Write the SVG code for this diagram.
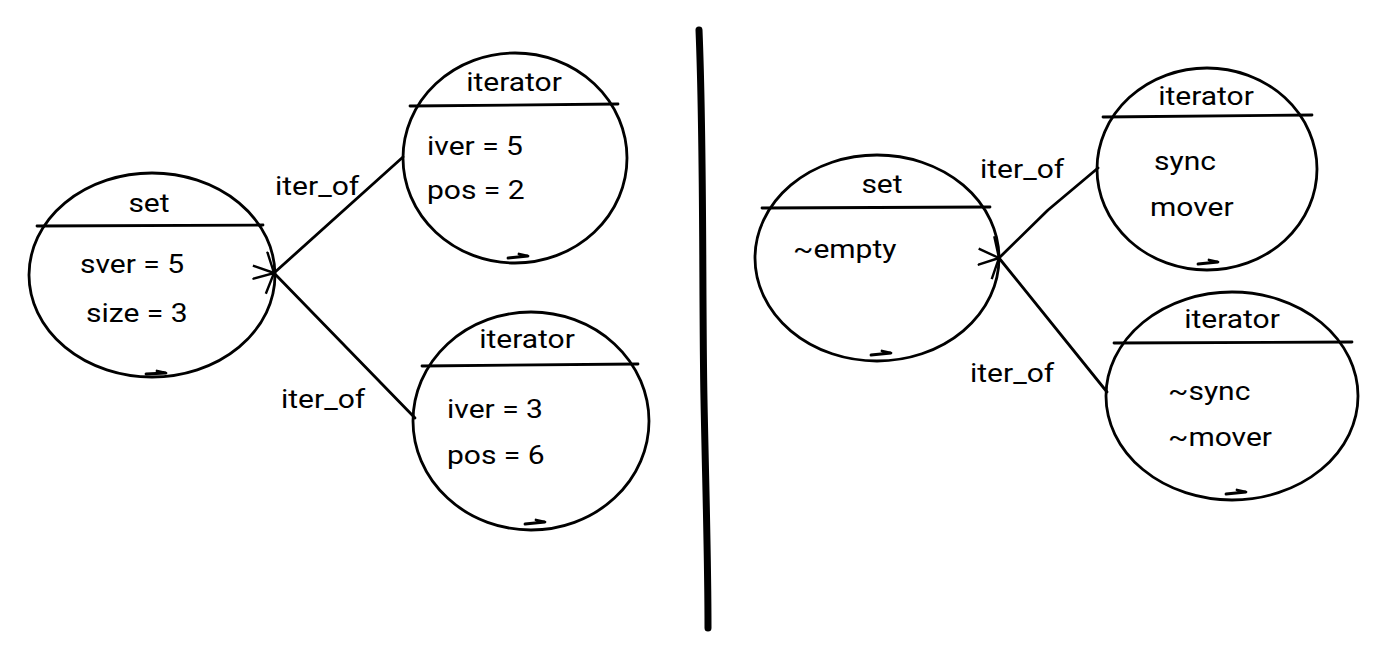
<svg xmlns="http://www.w3.org/2000/svg" width="1388" height="656" viewBox="0 0 1388 656">
<defs>
<marker id="arr" viewBox="0 0 22 22" refX="1" refY="11" markerWidth="22" markerHeight="22" markerUnits="userSpaceOnUse" orient="auto">
<path d="M21,1 L1,11 L21,21" fill="none" stroke="#000" stroke-width="2.4"/>
</marker>
<style>
.sh{fill:none;stroke:#000;stroke-width:2.8;stroke-linecap:round;stroke-linejoin:round}
.t{font-family:Roboto,"Noto Sans",sans-serif;font-size:25px;fill:#000}
.c{text-anchor:middle}
</style>
</defs>
<rect width="1388" height="656" fill="#fff"/>
<path class="sh" d="M699,30 C704,150 702,300 704,400 C706,500 708,560 708,628" style="stroke-width:7"/>
<g id="conn">
<path class="sh" d="M403,157 L274,273" marker-end="url(#arr)"/>
<path class="sh" d="M415,418 L274,273" marker-end="url(#arr)"/>
<path class="sh" d="M1098,168 L1048,210 L999,258" marker-end="url(#arr)"/>
<path class="sh" d="M1107,392 L999,258" marker-end="url(#arr)"/>
<text class="t" transform="translate(275,195) scale(1.2,1)">iter_of</text>
<text class="t" transform="translate(281,408) scale(1.2,1)">iter_of</text>
<text class="t" transform="translate(980,178) scale(1.2,1)">iter_of</text>
<text class="t" transform="translate(970,382) scale(1.2,1)">iter_of</text>
</g>
<g id="set1">
<ellipse class="sh" cx="152" cy="275" rx="123" ry="102"/>
<path class="sh" d="M37,226 L263,225"/>
<path class="sh" d="M146,374 L166,373 L157,371"/>
<text class="t c" transform="translate(149,212) scale(1.2,1)">set</text>
<text class="t" transform="translate(80,273) scale(1.2,1)">sver = 5</text>
<text class="t" transform="translate(86,322) scale(1.2,1)">size = 3</text>
</g>
<g id="it1">
<ellipse class="sh" cx="515" cy="158" rx="112" ry="105"/>
<path class="sh" d="M410,106 L618,104"/>
<path class="sh" d="M508,258 L528,256 L519,254"/>
<text class="t c" transform="translate(514,91) scale(1.2,1)">iterator</text>
<text class="t" transform="translate(427,155) scale(1.2,1)">iver = 5</text>
<text class="t" transform="translate(427,199) scale(1.2,1)">pos = 2</text>
</g>
<g id="it2">
<ellipse class="sh" cx="531" cy="421" rx="118" ry="109"/>
<path class="sh" d="M422,366 L638,364"/>
<path class="sh" d="M525,524 L545,522 L536,520"/>
<text class="t c" transform="translate(527,348) scale(1.2,1)">iterator</text>
<text class="t" transform="translate(447,418) scale(1.2,1)">iver = 3</text>
<text class="t" transform="translate(447,464) scale(1.2,1)">pos = 6</text>
</g>
<g id="set2">
<ellipse class="sh" cx="877" cy="258" rx="122" ry="103"/>
<path class="sh" d="M762,208 L990,207"/>
<path class="sh" d="M871,355 L891,353 L882,351"/>
<text class="t c" transform="translate(882,193) scale(1.2,1)">set</text>
<text class="t" transform="translate(793,258) scale(1.2,1)">~empty</text>
</g>
<g id="it3">
<ellipse class="sh" cx="1207" cy="169" rx="110" ry="101"/>
<path class="sh" d="M1103,117 L1312,115"/>
<path class="sh" d="M1198,264 L1218,262 L1209,260"/>
<text class="t c" transform="translate(1206,105) scale(1.2,1)">iterator</text>
<text class="t" transform="translate(1154,170) scale(1.2,1)">sync</text>
<text class="t" transform="translate(1150,216) scale(1.2,1)">mover</text>
</g>
<g id="it4">
<ellipse class="sh" cx="1232" cy="396" rx="126" ry="104"/>
<path class="sh" d="M1114,343 L1352,342"/>
<path class="sh" d="M1226,494 L1246,492 L1237,490"/>
<text class="t c" transform="translate(1232,328) scale(1.2,1)">iterator</text>
<text class="t" transform="translate(1168,400) scale(1.2,1)">~sync</text>
<text class="t" transform="translate(1168,446) scale(1.2,1)">~mover</text>
</g>
</svg>
